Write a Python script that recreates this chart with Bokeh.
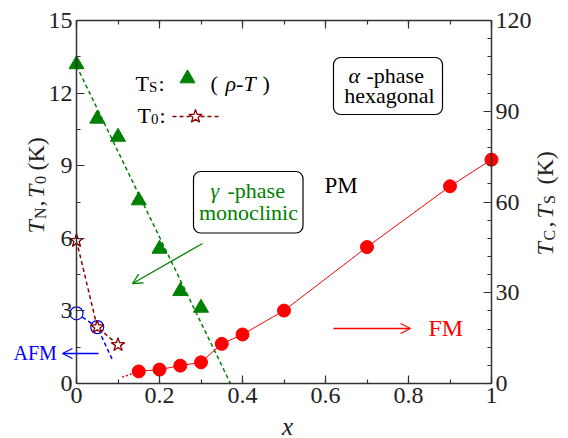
import math
from bokeh.plotting import figure
from bokeh.models import (Range1d, LinearAxis, SingleIntervalTicker, Label,
                          BoxAnnotation, Arrow, OpenHead, CustomJSTickFormatter)
from bokeh.embed import file_html
from bokeh.resources import INLINE

# ---------------- data ----------------
# T_S (structural transition, rho-T), right axis (K)
ts_x = [0.0, 0.05, 0.10, 0.15, 0.20, 0.25, 0.30]
ts_y = [105.5, 87.5, 81.5, 60.5, 44.5, 30.5, 25.0]
ts_fit_x = [0.0, 0.371]
ts_fit_y = [105.0, 0.0]

# T_0, left axis (K)
t0_x = [0.0, 0.05, 0.10]
t0_y = [5.9, 2.33, 1.6]

# T_N, left axis (K)
tn_x = [0.0, 0.05]
tn_y = [2.9, 2.33]
tn_guide_x = [0.0, 0.05, 0.086]
tn_guide_y = [2.9, 2.33, 1.0]

# T_C, right axis (K)
tc_x = [0.15, 0.20, 0.25, 0.30, 0.35, 0.40, 0.50, 0.70, 0.90, 1.00]
tc_y = [4.0, 4.6, 5.9, 7.0, 13.1, 16.2, 24.1, 45.1, 65.2, 74.0]
tc_guide_x = [0.11, 0.15]
tc_guide_y = [2.1, 4.0]

x_ticks_labels = {0: "0", 1: "1"}

# ---------------- style ----------------
FONT = "Liberation Serif"
AX = "#333333"
TXT = "#222222"
GREEN = "#008000"
DRED = "#8B0000"
BLUE = "#0000FF"
RED = "#FF0000"

W, H = 568, 438
FL, FR, FT, FB = 76, 491, 20, 383   # axes box edges in page pixels
XMAX, YMAX, RMAX = 1.0, 15.0, 120.0
HSHIFT = 5.5   # baseline correction for horizontal labels
VSHIFT = 7.0   # baseline correction for rotated labels


def dx(px):
    return XMAX * (px - FL) / (FR - FL)


def dy(py):
    return YMAX * (FB - py) / (FB - FT)


# the drawing area spans the whole page; the axes are fixed at the box edges
p = figure(width=W, height=H, title=None,
           x_range=Range1d(dx(0), dx(W)), y_range=Range1d(dy(H), dy(0)),
           output_backend="svg", toolbar_location=None,
           min_border_left=0, min_border_right=0,
           min_border_top=0, min_border_bottom=0)
p.extra_y_ranges = {"right": Range1d(dy(H) * RMAX / YMAX, dy(0) * RMAX / YMAX)}
p.grid.visible = False
p.outline_line_color = None
p.background_fill_color = "white"
p.border_fill_color = "white"


def style_axis(ax):
    ax.axis_line_color = AX
    ax.axis_line_width = 1.5
    ax.major_tick_in = 8
    ax.major_tick_out = 0
    ax.minor_tick_in = 4
    ax.minor_tick_out = 0
    ax.major_tick_line_color = AX
    ax.minor_tick_line_color = AX
    ax.major_tick_line_width = 1.2
    ax.minor_tick_line_width = 1.2
    ax.major_label_text_font = FONT
    ax.major_label_text_font_size = "24px"
    ax.major_label_text_color = TXT
    ax.major_label_standoff = 4


xb = p.xaxis[0]
xb.ticker = SingleIntervalTicker(interval=0.2, num_minor_ticks=2)
xb.major_label_overrides = x_ticks_labels
xb.fixed_location = 0
xb.bounds = (0, XMAX)
style_axis(xb)

yl = p.yaxis[0]
yl.ticker = SingleIntervalTicker(interval=3, num_minor_ticks=2)
yl.fixed_location = 0
yl.bounds = (0, YMAX)
style_axis(yl)

yr = LinearAxis(y_range_name="right", fixed_location=XMAX, bounds=(0, RMAX),
                ticker=SingleIntervalTicker(interval=30, num_minor_ticks=5))
style_axis(yr)
p.add_layout(yr, "right")

xt = LinearAxis(fixed_location=YMAX, bounds=(0, XMAX),
                ticker=SingleIntervalTicker(interval=0.2, num_minor_ticks=2),
                formatter=CustomJSTickFormatter(code="return ''"))
style_axis(xt)
p.add_layout(xt, "above")

# ---------------- glyphs ----------------
p.line(ts_fit_x, ts_fit_y, y_range_name="right", line_color=GREEN,
       line_width=1.5, line_dash="4 3")
p.scatter(ts_x, ts_y, y_range_name="right", marker="triangle", size=15,
          fill_color=GREEN, line_color=GREEN)

p.line(tn_guide_x, tn_guide_y, line_color=BLUE, line_width=1.5, line_dash="4 3")
p.scatter(tn_x, tn_y, marker="circle", size=13, fill_color="white",
          line_color=BLUE, line_width=1.2)

p.line(t0_x, t0_y, line_color=DRED, line_width=1.5, line_dash="4 3")
p.scatter(t0_x, t0_y, marker="star", size=14, fill_color="white",
          line_color=DRED, line_width=1.3)

p.line(tc_guide_x, tc_guide_y, y_range_name="right", line_color=RED,
       line_width=1.5, line_dash="2 2")
p.line(tc_x, tc_y, y_range_name="right", line_color=RED, line_width=1)
p.scatter(tc_x, tc_y, y_range_name="right", marker="circle", size=13,
          fill_color=RED, line_color=RED)


# ---------------- annotations (positions in page pixels) ----------------
def lab(px, py, text, size, color="black", style="normal", align="left",
        angle=0.0):
    if angle:
        px = px - VSHIFT
    else:
        py = py - HSHIFT
    p.add_layout(Label(x=dx(px), y=dy(py), text=text, text_font=FONT,
                       text_font_size=f"{size}px", text_font_style=style,
                       text_color=color, text_align=align,
                       text_baseline="alphabetic", angle=angle))


def arrow(x0, y0, x1, y1, color):
    p.add_layout(Arrow(x_start=dx(x0), y_start=dy(y0), x_end=dx(x1),
                       y_end=dy(y1), line_color=color, line_width=1.3,
                       end=OpenHead(size=10, line_color=color,
                                    line_width=1.3)))


# legend-like key
lab(135, 88, "T", 22)
lab(148.5, 92, "S", 15)
lab(158, 88, ":", 22)
p.scatter([dx(187)], [dy(78)], marker="triangle", size=15,
          fill_color=GREEN, line_color=GREEN)
lab(210, 88, "(", 22)
lab(225, 88, "ρ-T", 22, style="italic")
lab(262, 88, ")", 22)

lab(137, 120, "T", 22)
lab(150.5, 124, "0", 15)
lab(159, 120, ":", 22)
p.line([dx(172), dx(218)], [dy(116), dy(116)], line_color=DRED,
       line_width=1.5, line_dash="4 3")
p.scatter([dx(195)], [dy(116)], marker="star", size=14, fill_color="white",
          line_color=DRED, line_width=1.3)

# phase boxes
p.add_layout(BoxAnnotation(left=dx(333), right=dx(442), top=dy(57),
                           bottom=dy(114), fill_color="white", fill_alpha=1,
                           line_color="black", line_alpha=1, line_width=1.2,
                           border_radius=7))
lab(348, 80, "α", 22, style="italic")
lab(366, 80, "-phase", 22)
lab(389, 100, "hexagonal", 22, align="center")

p.add_layout(BoxAnnotation(left=dx(193), right=dx(302.5), top=dy(171),
                           bottom=dy(232.5), fill_color="white", fill_alpha=1,
                           line_color="black", line_alpha=1, line_width=1.2,
                           border_radius=7))
lab(210, 195, "γ", 22, color=GREEN, style="italic")
lab(227, 195, "-phase", 22, color=GREEN)
lab(248, 217, "monoclinic", 22, color=GREEN, align="center")

lab(324, 190, "PM", 23)
lab(428, 333, "FM", 24, color=RED)
lab(13, 358, "AFM", 20, color=BLUE)

arrow(202, 243, 132, 283, GREEN)
arrow(333, 328, 410, 328, RED)
arrow(98, 353, 62, 353, BLUE)

# axis titles
lab(287, 431, "x", 25, color=TXT, style="italic", align="center")

A = math.pi / 2
# left: T_N, T_0 (K)
lab(42, 233, "T", 24, color=TXT, style="italic", angle=A)
lab(47, 218.5, "N", 16, color=TXT, angle=A)
lab(42, 206, ",", 24, color=TXT, angle=A)
lab(42, 197.5, "T", 24, color=TXT, style="italic", angle=A)
lab(47, 183.5, "0", 16, color=TXT, angle=A)
lab(42, 170, "(K)", 24, color=TXT, angle=A)
# right: T_C, T_S (K)
lab(551, 255, "T", 24, color=TXT, style="italic", angle=A)
lab(556, 240, "C", 16, color=TXT, angle=A)
lab(551, 227, ",", 24, color=TXT, angle=A)
lab(551, 218, "T", 24, color=TXT, style="italic", angle=A)
lab(556, 203.5, "S", 16, color=TXT, angle=A)
lab(551, 184, "(K)", 24, color=TXT, angle=A)

open("out.html", "w").write(file_html(p, INLINE))
